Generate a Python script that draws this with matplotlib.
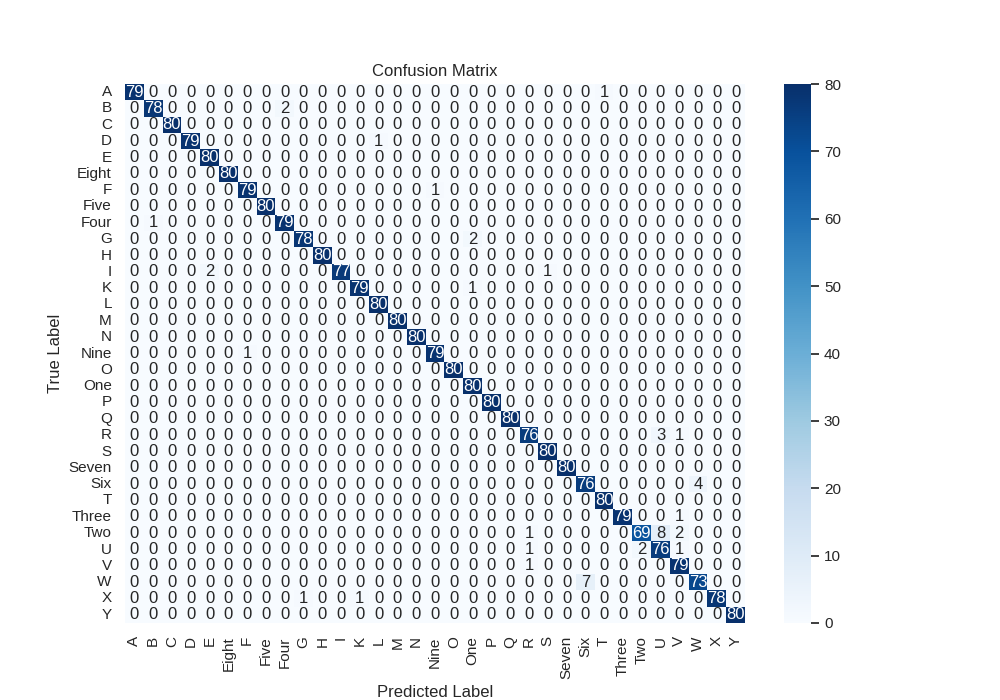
import numpy as np
import matplotlib
matplotlib.use("Agg")
import matplotlib.pyplot as plt
import seaborn as sns

labels = ["A", "B", "C", "D", "E", "Eight", "F", "Five", "Four", "G", "H", "I", "K",
          "L", "M", "N", "Nine", "O", "One", "P", "Q", "R", "S", "Seven", "Six", "T",
          "Three", "Two", "U", "V", "W", "X", "Y"]

diagonal = [79, 78, 80, 79, 80, 80, 79, 80, 79, 78, 80, 77, 79,
            80, 80, 80, 79, 80, 80, 80, 80, 76, 80, 80, 76, 80,
            79, 69, 76, 79, 73, 78, 80]

# off-diagonal errors: (true, predicted, count)
errors = [
    ("A", "T", 1),
    ("B", "Four", 2),
    ("D", "L", 1),
    ("F", "Nine", 1),
    ("Four", "B", 1),
    ("G", "One", 2),
    ("I", "E", 2),
    ("I", "S", 1),
    ("K", "One", 1),
    ("Nine", "F", 1),
    ("R", "U", 3),
    ("R", "V", 1),
    ("Six", "W", 4),
    ("Three", "V", 1),
    ("Two", "R", 1),
    ("Two", "U", 8),
    ("Two", "V", 2),
    ("U", "R", 1),
    ("U", "Two", 2),
    ("U", "V", 1),
    ("V", "R", 1),
    ("W", "Six", 7),
    ("X", "G", 1),
    ("X", "K", 1),
]

n = len(labels)
cm = np.zeros((n, n), dtype=int)
for i, v in enumerate(diagonal):
    cm[i, i] = v
for t, p, c in errors:
    cm[labels.index(t), labels.index(p)] = c

sns.set_theme()
plt.rcParams['font.family'] = ['Liberation Sans', 'DejaVu Sans']

fig = plt.figure(figsize=(10, 7), dpi=100)
ax = sns.heatmap(cm, annot=True, fmt="d", cmap="Blues",
                 xticklabels=labels, yticklabels=labels)
ax.set_title("Confusion Matrix")
ax.set_xlabel("Predicted Label")
ax.set_ylabel("True Label")
fig.savefig("out.png", dpi=100)
